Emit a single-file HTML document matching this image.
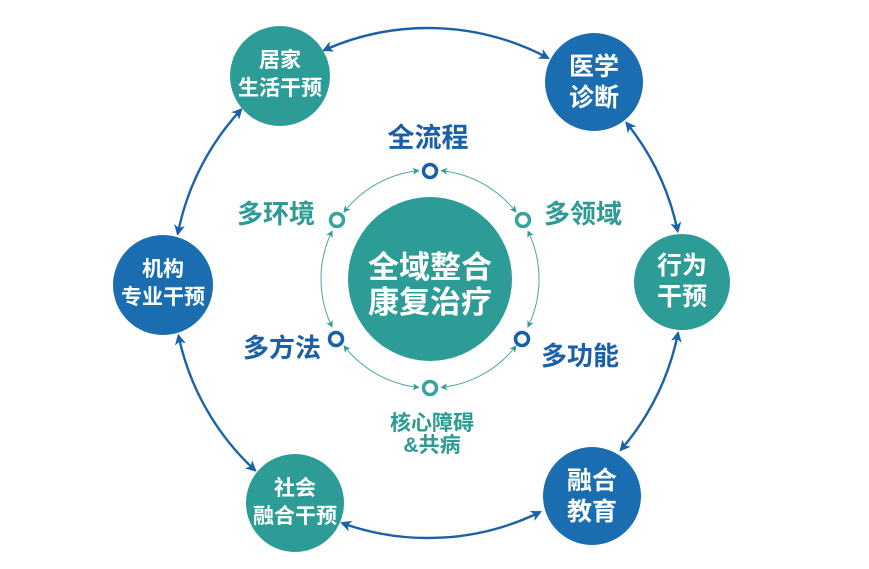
<!DOCTYPE html>
<html><head><meta charset="utf-8"><style>
html,body{margin:0;padding:0;background:#fff;}
svg{display:block;}
text{font-family:"Liberation Sans","Noto Sans CJK SC",sans-serif;font-weight:bold;text-anchor:middle;}
</style></head><body>
<svg id="s" width="869" height="569" viewBox="0 0 869 569" xmlns="http://www.w3.org/2000/svg">
<defs>
<marker id="ab" markerWidth="11" markerHeight="11" refX="9" refY="5.5" orient="auto-start-reverse" markerUnits="userSpaceOnUse"><path d="M0,0 L11,5.5 L0,11 L3,5.5 Z" fill="#1a62a8"/></marker>
<marker id="at" markerWidth="7" markerHeight="7" refX="6" refY="3.5" orient="auto-start-reverse" markerUnits="userSpaceOnUse"><path d="M0,0 L7,3.5 L0,7 L2,3.5 Z" fill="#2e9a94"/></marker>
</defs>
<g id="arcs"></g>
<circle cx="430" cy="279" r="82" fill="#2e9c96"/>
<text x="430" y="278" font-size="31" fill="#fff">全域整合</text>
<text x="430" y="313" font-size="31" fill="#fff">康复治疗</text>

<circle cx="280" cy="76" r="50" fill="#2e9c96"/>
<text x="280" y="67" font-size="21" fill="#fff">居家</text>
<text x="280" y="95" font-size="21" fill="#fff">生活干预</text>
<circle cx="594" cy="82" r="49" fill="#1a6db0"/>
<text x="594" y="75" font-size="25" fill="#fff">医学</text>
<text x="594" y="106" font-size="25" fill="#fff">诊断</text>
<circle cx="682" cy="282" r="48" fill="#2e9c96"/>
<text x="682" y="274" font-size="25" fill="#fff">行为</text>
<text x="682" y="305" font-size="25" fill="#fff">干预</text>
<circle cx="592" cy="496" r="49" fill="#1a6db0"/>
<text x="592" y="489" font-size="25" fill="#fff">融合</text>
<text x="592" y="520" font-size="25" fill="#fff">教育</text>
<circle cx="295" cy="503" r="49" fill="#2e9c96"/>
<text x="295" y="495" font-size="21" fill="#fff">社会</text>
<text x="295" y="523" font-size="21" fill="#fff">融合干预</text>
<circle cx="163" cy="285" r="50" fill="#1a6db0"/>
<text x="163" y="276" font-size="21" fill="#fff">机构</text>
<text x="163" y="304" font-size="21" fill="#fff">专业干预</text>

<circle cx="430" cy="171" r="6.5" fill="#fff" stroke="#1a5fa8" stroke-width="3.5"/>
<circle cx="523" cy="220" r="6.5" fill="#fff" stroke="#3aa39b" stroke-width="3.5"/>
<circle cx="522" cy="339" r="6.5" fill="#fff" stroke="#1a5fa8" stroke-width="3.5"/>
<circle cx="430" cy="388" r="6.5" fill="#fff" stroke="#3aa39b" stroke-width="3.5"/>
<circle cx="336" cy="339" r="6.5" fill="#fff" stroke="#1a5fa8" stroke-width="3.5"/>
<circle cx="337" cy="220" r="6.5" fill="#fff" stroke="#3aa39b" stroke-width="3.5"/>

<text x="428" y="147" font-size="27" fill="#1a5fa8">全流程</text>
<text x="583" y="223" font-size="26" fill="#2e9a94">多领域</text>
<text x="276" y="223" font-size="26" fill="#2e9a94">多环境</text>
<text x="282" y="357" font-size="26" fill="#1a5fa8">多方法</text>
<text x="580" y="365" font-size="26" fill="#1a5fa8">多功能</text>
<text x="432" y="430" font-size="21" fill="#2e9a94">核心障碍</text>
<text x="432" y="452" font-size="21" fill="#2e9a94">&amp;共病</text>
</svg>
<script>
(function(){
var g=document.getElementById('arcs'),NS='http://www.w3.org/2000/svg';
function arc(cx,cy,R,a1,a2,col,w,m){
var r=Math.PI/180,x1=cx+R*Math.cos(a1*r),y1=cy+R*Math.sin(a1*r),x2=cx+R*Math.cos(a2*r),y2=cy+R*Math.sin(a2*r);
var p=document.createElementNS(NS,'path');
p.setAttribute('d','M'+x1+','+y1+' A'+R+','+R+' 0 0 1 '+x2+','+y2);
p.setAttribute('fill','none');p.setAttribute('stroke',col);p.setAttribute('stroke-width',w);
p.setAttribute('marker-start','url(#'+m+')');p.setAttribute('marker-end','url(#'+m+')');g.appendChild(p);}
var o=[-125.6,-50.4,-0.2,52.4,121.2,179.6,234.4];
for(var i=0;i<6;i++)arc(428,283,255,o[i]+11.5,o[i+1]-11.5,'#1a62a8',2.4,'ab');
var n=[-90,-32,32,90,148,212,270];
for(var j=0;j<6;j++)arc(430,279,109,n[j]+6,n[j+1]-6,'#4aa8a0',1,'at');
})();
</script>
</body></html>
